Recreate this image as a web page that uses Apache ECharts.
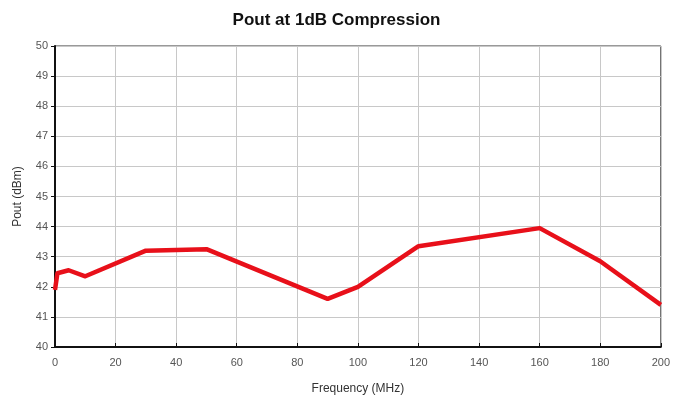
<!DOCTYPE html>
<html><head><meta charset="utf-8">
<script src="https://cdn.jsdelivr.net/npm/echarts@6/dist/echarts.min.js"></script>
<style>html,body{margin:0;padding:0;background:#fff}#c{width:673px;height:403px}</style>
</head><body><div id="c"></div>
<script>
const freqMHz = [0, 0.8, 4.5, 10, 30, 50, 90, 100, 120, 160, 180, 200];
const poutDbm = [41.9, 42.45, 42.55, 42.35, 43.2, 43.25, 41.6, 42.0, 43.35, 43.95, 42.85, 41.4];
const titleText = 'Pout at 1dB Compression';
const xName = 'Frequency (MHz)';
const yName = 'Pout (dBm)';

const chart = echarts.init(document.getElementById('c'), null, {renderer: 'canvas'});
chart.setOption({
  animation: false,
  backgroundColor: '#fff',
  title: {text: titleText, left: 'center', top: 7,
    textStyle: {fontFamily: 'Liberation Sans, Arial', fontSize: 17, fontWeight: 'bold', color: '#111'}},
  grid: {left: 55, right: 12, top: 46, bottom: 56, show: true, borderColor: '#333', borderWidth: 1},
  xAxis: {type: 'value', min: 0, max: 200, interval: 20,
    name: xName, nameLocation: 'middle', nameGap: 36,
    nameTextStyle: {fontFamily: 'Liberation Sans, Arial', fontSize: 12, color: '#333'},
    axisLine: {show: true, onZero: false, lineStyle: {color: '#111', width: 2}},
    axisTick: {show: true, inside: true, length: 4, lineStyle: {color: '#111'}},
    axisLabel: {fontFamily: 'Liberation Sans, Arial', fontSize: 11, color: '#555', margin: 10},
    splitLine: {show: true, lineStyle: {color: '#c8c8c8', width: 1}}},
  yAxis: {type: 'value', min: 40, max: 50, interval: 1,
    name: yName, nameLocation: 'middle', nameGap: 31, nameRotate: 90,
    nameTextStyle: {fontFamily: 'Liberation Sans, Arial', fontSize: 12, color: '#333'},
    axisLine: {show: true, onZero: false, lineStyle: {color: '#111', width: 2}},
    axisTick: {show: true, inside: false, length: 4, lineStyle: {color: '#111'}},
    axisLabel: {fontFamily: 'Liberation Sans, Arial', fontSize: 11, color: '#555', margin: 7},
    splitLine: {show: true, lineStyle: {color: '#c8c8c8', width: 1}}},
  series: [{type: 'line', data: freqMHz.map((f, i) => [f, poutDbm[i]]),
    showSymbol: false, symbol: 'none',
    lineStyle: {color: '#e8101a', width: 4.5, join: 'round'}}]
});
</script></body></html>
